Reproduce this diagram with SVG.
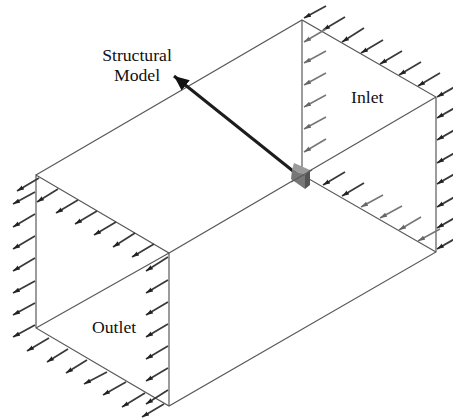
<svg xmlns="http://www.w3.org/2000/svg" width="453" height="420" viewBox="0 0 453 420">
<style>
.e{stroke:#5a5a5a;stroke-width:1.2;fill:none}
.a{stroke:#3a3a3a;stroke-width:1.8;marker-end:url(#h)}
.g{stroke:#777;stroke-width:1.6;marker-end:url(#hg)}
text{font-family:"Liberation Serif","Times New Roman",serif;font-size:17.7px;fill:#111}
</style>
<defs>
<marker id="h" markerUnits="userSpaceOnUse" markerWidth="9" markerHeight="6" refX="7" refY="3" orient="auto"><path d="M0 0.7L7 3L0 5.3Z" fill="#222"/></marker>
<marker id="hg" markerUnits="userSpaceOnUse" markerWidth="9" markerHeight="6" refX="7" refY="3" orient="auto"><path d="M0 0.7L7 3L0 5.3Z" fill="#666"/></marker>
<marker id="big" markerUnits="userSpaceOnUse" markerWidth="16" markerHeight="14" refX="15" refY="7" orient="auto"><path d="M0 0.5L15 7L0 13.5Z" fill="#111"/></marker>
</defs>
<g id="connectors">
<g id="edges">
<path class="e" d="M36 175L302 20L436 97V252L169 406L36 328V175L169 253L436 97"/>
<path class="e" d="M169 253V406M302 20V175L436 252M169 253L36 328"/>
</g>
<g id="inlet-flow">
<path class="a" d="M326 6L304 18"/><path class="a" d="M345 17L323 30"/><path class="a" d="M364 28L342 42"/><path class="a" d="M383 40L361 53"/><path class="a" d="M402 51L380 64"/><path class="a" d="M421 62L399 75"/><path class="a" d="M440 73L418 86"/>
<path class="g" d="M326 29L304 42"/><path class="g" d="M326 51L304 63"/><path class="g" d="M326 73L304 85"/><path class="g" d="M326 95L304 107"/><path class="g" d="M326 117L304 129"/><path class="g" d="M326 139L304 152"/>
<path class="a" d="M458 85L437 97"/><path class="a" d="M458 106L437 118"/><path class="a" d="M458 128L437 140"/><path class="a" d="M458 151L437 163"/><path class="a" d="M458 172L437 184"/><path class="a" d="M458 195L437 207"/><path class="a" d="M458 216L437 228"/><path class="a" d="M458 237L437 249"/>
<path class="a" d="M345 172L323 185"/><path class="a" d="M364 183L342 196"/><path class="g" d="M383 195L361 207"/><path class="g" d="M402 206L380 218"/><path class="g" d="M421 217L399 230"/><path class="g" d="M440 229L418 241"/>
</g>
<g id="outlet-flow">
<path class="a" d="M39 178L17 191"/><path class="a" d="M58 189L37 202"/><path class="a" d="M78 200L56 213"/><path class="a" d="M97 211L75 224"/><path class="a" d="M116 222L94 235"/><path class="a" d="M135 233L113 247"/><path class="a" d="M154 244L132 257"/>
<path class="a" d="M35 192L13 204"/><path class="a" d="M35 214L13 227"/><path class="a" d="M35 236L13 249"/><path class="a" d="M35 258L13 271"/><path class="a" d="M35 281L13 293"/><path class="a" d="M35 303L13 315"/><path class="a" d="M35 325L13 337"/>
<path class="a" d="M49 338L27 351"/><path class="a" d="M68 349L47 362"/><path class="a" d="M87 360L66 373"/><path class="a" d="M107 372L84 384"/><path class="a" d="M126 382L103 395"/><path class="a" d="M145 393L122 407"/><path class="a" d="M164 404L142 417"/>
<path class="a" d="M168 257L146 271"/><path class="a" d="M168 280L146 293"/><path class="a" d="M168 302L146 315"/><path class="a" d="M168 324L146 337"/><path class="a" d="M168 346L146 359"/><path class="a" d="M168 368L146 381"/><path class="a" d="M168 390L146 404"/>
</g>
<path id="model-arrow" d="M298 175L174 76" stroke="#1c1c1c" stroke-width="3" fill="none" marker-end="url(#big)"/>
</g>
<g id="probe">
<path d="M294 163L310 170L305 175L292 170Z" fill="#9a9a9a"/>
<path d="M292 170L305 175L305 189L291 179Z" fill="#777"/>
<path d="M305 175L310 170V185L305 189Z" fill="#555"/>
<path class="e" d="M291 182L312 170"/>
</g>
<g id="structural-model"><text x="137" y="61" text-anchor="middle">Structural</text><text x="137" y="81" text-anchor="middle">Model</text></g>
<g id="inlet"><text x="351" y="103">Inlet</text></g>
<g id="outlet"><text x="92" y="333">Outlet</text></g>
</svg>
